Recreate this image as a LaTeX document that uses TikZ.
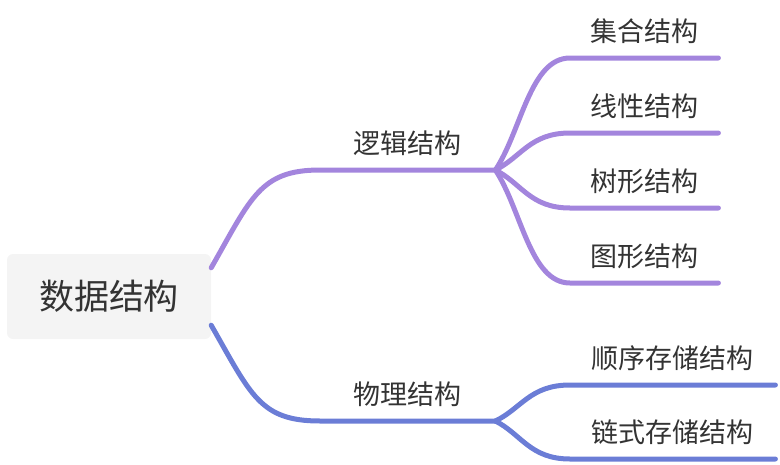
\documentclass[tikz,border=0pt]{standalone}
\usepackage{fontspec}
\setmainfont{Noto Sans CJK SC}
\usetikzlibrary{calc}
\definecolor{txtgray}{HTML}{333333}
\definecolor{rootfill}{HTML}{F4F4F4}
\definecolor{logicline}{RGB}{163,133,221}
\definecolor{physicline}{RGB}{107,125,214}

\begin{document}
\begin{tikzpicture}[x=1pt, y=-1pt,
  branch/.style={line width=5pt, line cap=round},
  topic/.style={anchor=south west, inner xsep=0pt, inner ysep=16pt, text height=20pt, text depth=0pt,
    text=txtgray, font=\fontsize{27}{30}\selectfont}]
\useasboundingbox (0,0) rectangle (780,464);
% root
\node[fill=rootfill, rounded corners=6pt, minimum width=204pt, minimum height=85pt, text height=26.6pt, text depth=0pt,
  text=txtgray, font=\fontsize{35}{40}\selectfont] (root) at (109,296.5) {数据结构};
% main branches
\node[topic, minimum width=175pt] (logic) at (320,170) {逻辑结构};
\node[topic, minimum width=175pt] (physic) at (320,421) {物理结构};
% leaves
\node[topic, minimum width=148pt] (set) at (570,58) {集合结构};
\node[topic, minimum width=148pt] (linear) at (570,133) {线性结构};
\node[topic, minimum width=148pt] (tree) at (570,208) {树形结构};
\node[topic, minimum width=148pt] (graph) at (570,283) {图形结构};
\node[topic, minimum width=205pt] (seq) at (570,385) {顺序存储结构};
\node[topic, minimum width=205pt] (link) at (570,459) {链式存储结构};

\draw[branch, logicline] ([yshift=-14pt]root.north east) .. controls +(40,-70) and +(-60,0) .. (logic.south west) -- (logic.south east);
\draw[branch, physicline] ([yshift=14pt]root.south east) .. controls +(40,70) and +(-60,0) .. (physic.south west) -- (physic.south east);
\foreach \leaf in {set,linear,tree,graph}
  \draw[branch, logicline] (logic.south east) .. controls ($(logic.south east)!0.35!(\leaf.south west)$) and +(-40,0) .. (\leaf.south west) -- (\leaf.south east);
\foreach \leaf in {seq,link}
  \draw[branch, physicline] (physic.south east) .. controls ($(physic.south east)!0.35!(\leaf.south west)$) and +(-40,0) .. (\leaf.south west) -- (\leaf.south east);
\end{tikzpicture}
\end{document}
